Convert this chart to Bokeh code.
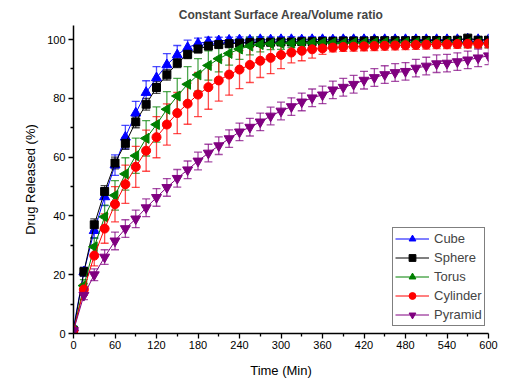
import math
from bokeh.plotting import figure
from bokeh.models import (Range1d, Legend, LegendItem, Whisker, ColumnDataSource,
                          TeeHead, FixedTicker, Title)
from bokeh.embed import file_html
from bokeh.resources import INLINE

time_min = [0, 15, 30, 45, 60, 75, 90, 105, 120, 135, 150, 165, 180, 195, 210, 225, 240,
            255, 270, 285, 300, 315, 330, 345, 360, 375, 390, 405, 420, 435, 450, 465, 480,
            495, 510, 525, 540, 555, 570, 585, 600]

cube = [2, 21, 35, 46.5, 57.3, 66.8, 75, 82, 87, 91.4, 94.8, 97.3, 98.7, 99.3, 99.6, 99.8, 99.9,
        99.8, 100, 99.9, 100, 100, 99.9, 100, 100, 99.9, 100, 100, 100, 100, 100, 100, 100,
        100, 100, 100, 100, 100, 100.2, 100, 100]
cube_err = [0.5, 1.5, 2.5, 3, 3.5, 4, 4, 4, 3.8, 3.8, 3.2, 2.5, 1.8, 1.5, 1.2, 1, 1,
            1, 1, 1, 1, 1, 1, 1, 1, 1, 1, 1, 1, 1, 1, 1, 1,
            1, 1, 1, 1, 1, 1, 1, 1]

sphere = [1, 21, 37, 48.3, 58, 64.7, 72, 78, 83.7, 88, 92, 95, 96.8, 97.8, 98.3, 98.6, 98.8,
          99, 99, 99.1, 99.2, 99.2, 99.3, 99.3, 99.4, 99.4, 99.5, 99.5, 99.5, 99.6, 99.6, 99.6, 99.6,
          99.7, 99.7, 99.7, 99.7, 99.8, 100.5, 99.8, 99.8]
sphere_err = [0.5, 1.5, 2, 2, 2, 2, 2, 2, 2, 1.8, 1.5, 1.5, 1.2, 1, 1, 1, 1,
              1, 1, 1, 1, 1, 1, 1, 1, 1, 1, 1, 1, 1, 1, 1, 1,
              1, 1, 1, 1, 1, 1, 1, 1]

torus = [1, 16.3, 29.5, 39.7, 47, 54.3, 60.5, 66.4, 71.1, 76.3, 80.8, 84.8, 88, 91.2, 93.5, 95.3, 96.8,
         97.8, 98.3, 98.6, 98.7, 98.8, 98.8, 98.9, 98.9, 98.9, 98.8, 98.9, 98.9, 98.9, 99, 98.9, 99,
         99, 99, 99, 99, 99, 98.9, 98.9, 98.7]
torus_err = [0.5, 2, 3, 4, 5, 5.5, 6, 6, 6, 6, 6, 6, 5.5, 5, 4.5, 4, 3.5,
             3, 2.5, 2, 2, 1.5, 1.5, 1.5, 1.5, 1.5, 1.5, 1.5, 1.5, 1.5, 1.5, 1.5, 1.5,
             1.5, 1.5, 1.5, 1.5, 1.5, 1.5, 1.5, 1.5]

cylinder = [1, 15, 26.5, 35.7, 44, 50.8, 56.7, 62.2, 66.8, 71.1, 75, 78.2, 81.3, 83.8, 86.1, 88.1, 89.8,
            91.4, 92.8, 93.8, 94.8, 95.6, 96.2, 96.7, 97, 97.3, 97.5, 97.6, 97.7, 97.8, 97.9, 98, 98.1,
            98.2, 98.3, 98.4, 98.4, 98.5, 98.6, 98.6, 98.7]
cylinder_err = [0.5, 2, 3.5, 5, 6, 6.5, 7, 7, 7, 7, 7, 7, 7.5, 7.5, 7, 7, 6.5,
                6, 5.7, 5.4, 4.7, 3.5, 3.4, 3, 2, 1.5, 1.5, 1.5, 1.5, 1.5, 1.5, 1.5, 1.5,
                1.5, 1.5, 1.5, 1.5, 1.5, 1.5, 1.5, 1.5]

pyramid = [1, 13, 20, 26, 31.5, 35.7, 39, 42.8, 46.3, 49.7, 52.8, 55.7, 58.7, 61.4, 63.9, 66.3, 68.6,
           70.2, 72, 74, 75.7, 77.2, 78.8, 80.2, 81.2, 82.9, 83.8, 84.8, 86.2, 87.1, 88.1, 88.8, 89.2,
           90.3, 91, 91.8, 92, 92.5, 93.1, 93.8, 94.5]
pyramid_err = [0.5, 1.5, 2, 2.5, 3, 3, 3, 3, 3, 3, 3, 3, 3, 3, 3, 3, 3,
               3, 3, 3, 3, 3, 3, 3, 3, 3, 3, 3, 3, 3, 3, 3, 3,
               3, 3, 3, 3, 3, 3, 3, 3]

series_names = ["Cube", "Sphere", "Torus", "Cylinder", "Pyramid"]
series_vals = [cube, sphere, torus, cylinder, pyramid]
series_errs = [cube_err, sphere_err, torus_err, cylinder_err, pyramid_err]
series_colors = ["#0000ff", "#000000", "#008000", "#ff0000", "#800080"]
series_markers = ["triangle", "square", "triangle", "circle", "inverted_triangle"]
series_angles = [0, 0, math.pi / 2, 0, 0]
series_sizes = [10, 8, 10, 9, 10]

x_ticks = [0, 60, 120, 180, 240, 300, 360, 420, 480, 540, 600]
y_ticks = [0, 20, 40, 60, 80, 100]

FONT = "Liberation Sans"

p = figure(width=505, height=380, output_backend="svg", toolbar_location=None,
           x_range=Range1d(0, 600), y_range=Range1d(0, 104.8),
           min_border_left=73, min_border_right=17, min_border_top=25, min_border_bottom=10)
p.title = Title(text="Constant Surface Area/Volume ratio", align="center",
                text_font=FONT, text_font_size="12px", text_font_style="bold",
                standoff=8, text_line_height=0.85)
p.grid.visible = False
p.outline_line_color = None
p.background_fill_color = "white"
p.border_fill_color = "white"

for ax in (p.xaxis[0], p.yaxis[0]):
    ax.axis_line_width = 1.5
    ax.axis_line_color = "black"
    ax.major_tick_line_width = 1.3
    ax.minor_tick_line_width = 1.3
    ax.major_tick_out = 5
    ax.major_tick_in = 0
    ax.minor_tick_out = 3
    ax.minor_tick_in = 0
    ax.major_label_text_font = FONT
    ax.major_label_text_font_size = "11px"
    ax.major_label_text_color = "black"
    ax.axis_label_text_font = FONT
    ax.axis_label_text_font_size = "13px"
    ax.axis_label_text_font_style = "normal"
    ax.axis_label_text_color = "black"

p.xaxis.ticker = FixedTicker(ticks=x_ticks, minor_ticks=[t + 30 for t in x_ticks[:-1]])
p.yaxis.ticker = FixedTicker(ticks=y_ticks, minor_ticks=[t + 10 for t in y_ticks[:-1]])
p.xaxis.axis_label = "Time (Min)"
p.yaxis.axis_label = "Drug Released (%)"
p.xaxis.major_label_standoff = 2
p.yaxis.major_label_standoff = 3
p.xaxis.axis_label_standoff = 11
p.yaxis.axis_label_standoff = 6

items = []
for name, vals, errs, col, mk, ang, sz in zip(series_names, series_vals, series_errs,
                                               series_colors, series_markers,
                                               series_angles, series_sizes):
    src = ColumnDataSource(dict(
        t=time_min, v=vals,
        lo=[v - e for v, e in zip(vals, errs)],
        hi=[v + e for v, e in zip(vals, errs)]))
    w = Whisker(source=src, base="t", lower="lo", upper="hi",
                line_color=col, line_alpha=0.7, line_width=1.3,
                upper_head=TeeHead(size=8, line_color=col, line_alpha=0.7, line_width=1.3),
                lower_head=TeeHead(size=8, line_color=col, line_alpha=0.7, line_width=1.3))
    p.add_layout(w)
    lr = p.line("t", "v", source=src, line_color=col, line_width=1)
    sr = p.scatter("t", "v", source=src, marker=mk, angle=ang, size=sz,
                   fill_color=col, line_color=col)
    items.append(LegendItem(label=name, renderers=[lr, sr]))

legend = Legend(items=items, location=(319, 7),
                label_text_font=FONT, label_text_font_size="13px",
                glyph_width=34, glyph_height=17, label_height=17,
                spacing=2, padding=2, margin=0, label_standoff=5,
                border_line_color="black", border_line_width=1,
                background_fill_color="white", background_fill_alpha=1)
p.add_layout(legend, "center")

open("out.html", "w").write(file_html(p, INLINE))
